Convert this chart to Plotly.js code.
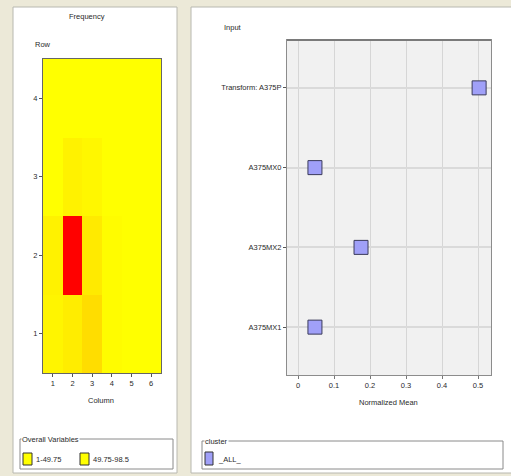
<!DOCTYPE html>
<html><head><meta charset="utf-8">
<script src="https://cdn.plot.ly/plotly-3.0.1.min.js"></script>
<style>html,body{margin:0;padding:0;background:#ECE9D8;}#c{width:511px;height:476px;}</style>
</head><body><div id="c"></div>
<script>
// ---- data ----
const columns = [1, 2, 3, 4, 5, 6];
const rows = [1, 2, 3, 4];
const freqRow1 = [5, 8, 14, 2, 1, 1];
const freqRow2 = [6, 98, 9, 2, 1, 1];
const freqRow3 = [1, 6, 4, 1, 1, 1];
const freqRow4 = [1, 1, 1, 1, 1, 1];
const heatLegendLabels = ['1-49.75', '49.75-98.5'];
const inputs = ['A375MX1', 'A375MX2', 'A375MX0', 'Transform: A375P'];
const normMeans = [0.047, 0.175, 0.047, 0.503];
const clusterLabel = '_ALL_';

const W = 511, H = 476;
const px = x => x / W, py = y => (H - y) / H;
const F = {family: 'Liberation Sans, Arial, sans-serif', size: 7.5, color: '#2A2A2A'};

const heat = {
  type: 'heatmap', x: columns, y: rows,
  z: [freqRow1, freqRow2, freqRow3, freqRow4],
  zmin: 1, zmax: 98.5,
  colorscale: [[0, '#FFFF00'], [1, '#FF0000']],
  showscale: false, xaxis: 'x', yaxis: 'y', hoverinfo: 'skip'
};
const pts = {
  type: 'scatter', mode: 'markers', x: normMeans, y: inputs,
  xaxis: 'x2', yaxis: 'y2', showlegend: false,
  marker: {symbol: 'square', size: 14, color: '#A0A0F8', line: {color: '#3A3A5A', width: 1}}
};

const shapes = [
  {type: 'rect', xref: 'paper', yref: 'paper', x0: px(13), x1: px(177), y0: py(473), y1: py(7), fillcolor: '#FFFFFF', line: {color: '#B8B8B0', width: 1}, layer: 'below'},
  {type: 'rect', xref: 'paper', yref: 'paper', x0: px(191), x1: px(512), y0: py(473), y1: py(7), fillcolor: '#FFFFFF', line: {color: '#B8B8B0', width: 1}, layer: 'below'},
  {type: 'rect', xref: 'x2 domain', yref: 'y2 domain', x0: 0, x1: 1, y0: 0, y1: 1, fillcolor: '#F1F1F1', line: {width: 0}, layer: 'below'},
  {type: 'line', xref: 'x2 domain', yref: 'y2 domain', x0: 0, x1: 1, y0: 1, y1: 1, line: {color: '#7A7A7A', width: 2}},
  {type: 'rect', xref: 'paper', yref: 'paper', x0: px(20), x1: px(173), y0: py(469), y1: py(439), line: {color: '#8A8A8A', width: 1}},
  {type: 'rect', xref: 'paper', yref: 'paper', x0: px(202), x1: px(503), y0: py(469), y1: py(441), line: {color: '#8A8A8A', width: 1}},
  {type: 'rect', xref: 'paper', yref: 'paper', x0: px(23), x1: px(32), y0: py(465), y1: py(453), fillcolor: '#FFFF00', line: {color: '#333', width: 1}},
  {type: 'rect', xref: 'paper', yref: 'paper', x0: px(80), x1: px(89), y0: py(465), y1: py(453), fillcolor: '#FFFF00', line: {color: '#333', width: 1}},
  {type: 'rect', xref: 'paper', yref: 'paper', x0: px(205), x1: px(213), y0: py(465), y1: py(452), fillcolor: '#A0A0F8', line: {color: '#333', width: 1}}
];

const ann = (t, x, y, xa, extra) => Object.assign({text: t, xref: 'paper', yref: 'paper', x: px(x), y: py(y), xanchor: xa || 'center', yanchor: 'middle', showarrow: false, font: F}, extra || {});
const annotations = [
  ann('Frequency', 87, 17),
  ann('Row', 33, 44, 'left'),
  ann('Column', 101, 400),
  ann('Input', 222, 27, 'left'),
  ann('Normalized Mean', 388, 402),
  ann('Overall Variables', 21, 439, 'left', {bgcolor: '#FFFFFF', borderpad: 0}),
  ann(heatLegendLabels[0], 34, 459, 'left'),
  ann(heatLegendLabels[1], 91, 459, 'left'),
  ann('cluster', 204, 441, 'left', {bgcolor: '#FFFFFF', borderpad: 0}),
  ann(clusterLabel, 216, 459, 'left')
];

const layout = {
  width: W, height: H, margin: {l: 0, r: 0, t: 0, b: 0},
  paper_bgcolor: '#ECE9D8', plot_bgcolor: '#FFFFFF',
  font: F, showlegend: false,
  xaxis: {domain: [px(43), px(161)], range: [0.5, 6.5], tickvals: columns, ticks: 'outside', ticklen: 3, tickcolor: '#555',
          showline: true, mirror: true, linecolor: '#666', showgrid: false, zeroline: false, fixedrange: true, tickfont: F},
  yaxis: {domain: [py(373), py(59)], range: [0.5, 4.5], tickvals: rows, ticks: 'outside', ticklen: 3, tickcolor: '#555',
          showline: true, mirror: true, linecolor: '#666', showgrid: false, zeroline: false, fixedrange: true, tickfont: F},
  xaxis2: {domain: [px(287), px(491)], range: [-0.0306, 0.536], dtick: 0.1, tick0: 0, ticks: 'outside', ticklen: 3, tickcolor: '#777',
           showline: true, mirror: true, linecolor: '#8C8C8C', linewidth: 1, showgrid: true, gridcolor: '#D6D6D6', zeroline: false,
           anchor: 'y2', fixedrange: true, tickfont: F},
  yaxis2: {domain: [py(375), py(40)], type: 'category', categoryorder: 'array', categoryarray: inputs, range: [-0.6, 3.6],
           ticks: 'outside', ticklen: 3, tickcolor: '#555', showline: true, mirror: true, linecolor: '#8C8C8C',
           showgrid: true, gridcolor: '#DADADA', gridwidth: 2, zeroline: false, anchor: 'x2', fixedrange: true, tickfont: F},
  shapes: shapes, annotations: annotations
};

Plotly.newPlot('c', [heat, pts], layout, {staticPlot: true, displayModeBar: false});
</script>
</body></html>
